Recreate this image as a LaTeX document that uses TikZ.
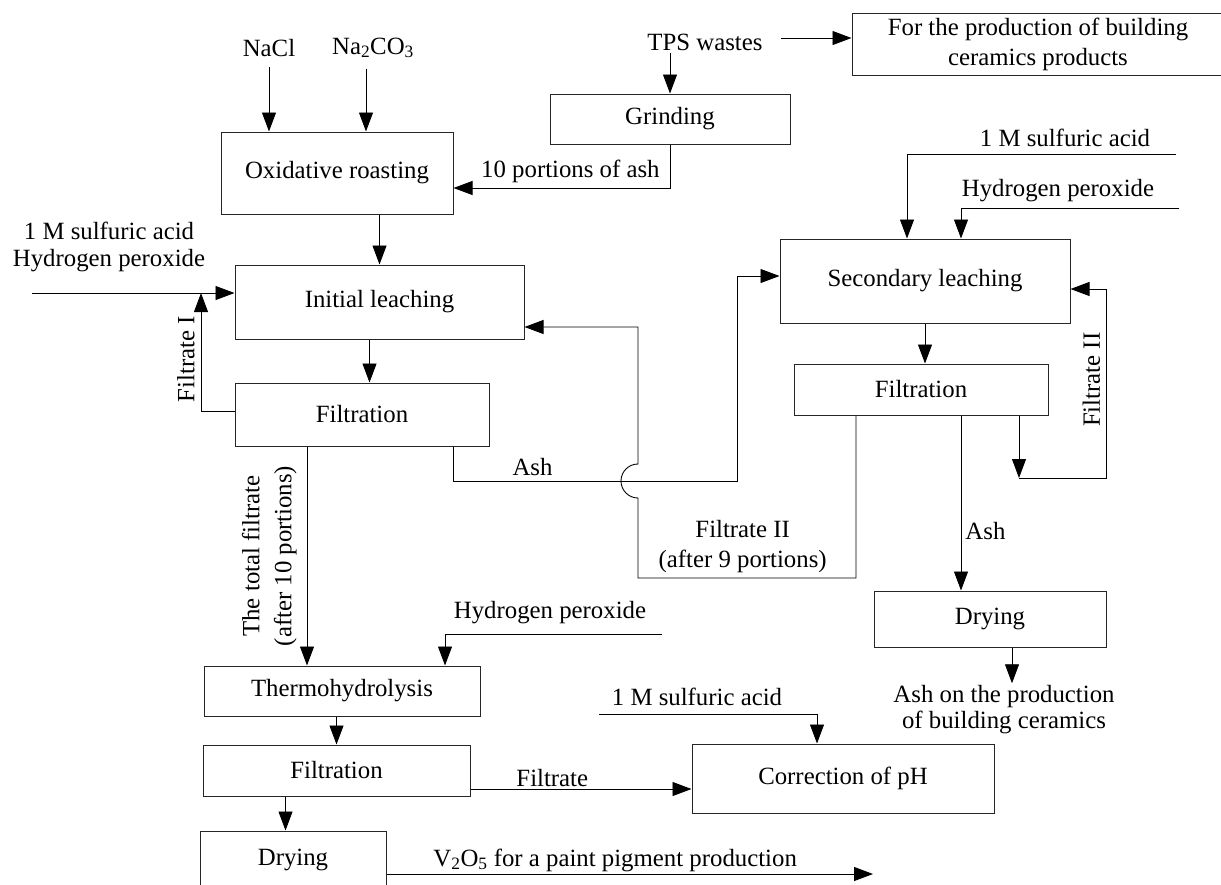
\documentclass[tikz,border=0pt]{standalone}
\usepackage{fontspec}
\setmainfont{Liberation Serif}
\usetikzlibrary{arrows.meta}

\begin{document}
\begin{tikzpicture}[
  x=1pt, y=-1pt,
  font=\fontsize{24.8}{29}\selectfont,
  box/.style={draw=black!85, line width=1pt, align=center, inner sep=0pt},
  lbl/.style={align=center, inner sep=2pt},
  turned/.style={lbl, rotate=90, anchor=south, inner sep=6pt},
  line width=0.9pt, >={Triangle[length=19pt, width=14pt]}
]
\useasboundingbox (0,0) rectangle (1221,884);

% Boxes
\node[box, minimum width=232pt, minimum height=82pt] (roast)  at (337,173)   {Oxidative roasting};
\node[box, minimum width=240pt, minimum height=50pt] (grind)  at (670,119)   {Grinding};
\node[box, minimum width=372pt, minimum height=62pt, font=\fontsize{24.8}{30}\selectfont] (prod) at (1038,44) {For the production of building\\ceramics products};
\node[box, minimum width=289pt, minimum height=74pt] (leach1) at (379.5,302) {Initial leaching};
\node[box, minimum width=254pt, minimum height=63pt] (filt1)  at (362,414.5) {Filtration};
\node[box, minimum width=290pt, minimum height=84pt] (leach2) at (925,281)   {Secondary leaching};
\node[box, minimum width=254pt, minimum height=51pt] (filt2)  at (921,389.5) {Filtration};
\node[box, minimum width=232pt, minimum height=56pt] (dry2)   at (990,619)   {Drying};
\node[box, minimum width=276pt, minimum height=50pt] (thermo) at (342,691)   {Thermohydrolysis};
\node[box, minimum width=267pt, minimum height=51pt] (filt3)  at (336.5,770.5) {Filtration};
\node[box, minimum width=302pt, minimum height=69pt] (corr)   at (843,778.5) {Correction of pH};
\node[box, minimum width=186pt, minimum height=58pt] (dry3)   at (293,860)   {Drying};

% Inputs and outputs
\node[lbl] (nacl) at (269,48) {NaCl};
\node[lbl] (soda) at (373,48) {Na\textsubscript{2}CO\textsubscript{3}};
\node[lbl] (tps)  at (705,42) {TPS wastes};
\node[lbl, font=\fontsize{24.8}{27}\selectfont] (acidL) at (109,247) {1 M sulfuric acid\\Hydrogen peroxide};
\node[lbl] (acidR) at (1065,138) {1 M sulfuric acid};
\node[lbl] (perR)  at (1058,191) {Hydrogen peroxide};
\node[lbl] (perB)  at (550,613)  {Hydrogen peroxide};
\node[lbl] (acidB) at (697,697)  {1 M sulfuric acid};
\node[lbl, font=\fontsize{24.8}{26}\selectfont] (ashprod) at (1004,710) {Ash on the production\\of building ceramics};

\coordinate (inL)  at (32,293);
\coordinate (jI)   at (201,293);
\coordinate (inS)  at (1176,154);
\coordinate (inH)  at (1179,208);
\coordinate (inT)  at (662,634);
\coordinate (inC)  at (599,714);
\coordinate (jII)  at (1019,478);
\coordinate (outV) at (873,874);

% Feed to roasting
\draw[->, shorten <=8pt] (nacl.south) -- (nacl.south |- roast.north);
\draw[->, shorten <=8pt] ([xshift=-7pt]soda.south) -- ([xshift=-7pt]soda.south |- roast.north);
\draw[->, shorten <=16pt] ([yshift=4pt]tps.east) -- ([yshift=4pt]tps.east -| prod.west);
\draw[->] (tps.south -| grind.north) -- (grind.north);
\draw[->] (grind.south) |- node[lbl, pos=0.73, above=3pt]{10 portions of ash} ([yshift=-15pt]roast.east);

% Initial leaching line
\draw[->] (roast.south -| leach1.north) -- (leach1.north);
\draw[->] (inL) -- (inL -| leach1.west);
\draw[->] ([xshift=-10pt]leach1.south) -- ([xshift=-10pt]leach1.south |- filt1.north);
\draw[->] ([yshift=3.5pt]filt1.west) -| node[turned, pos=0.72]{Filtrate I} (jI);
\draw[->] ([xshift=-55pt]filt1.south) -- node[turned, midway, inner sep=10pt, font=\fontsize{24.8}{32}\selectfont]{The total filtrate\\(after 10 portions)} ([xshift=-55pt]filt1.south |- thermo.north);
\draw[->] ([xshift=91pt]filt1.south) |- node[lbl, pos=0.64, above=3pt]{Ash} (737,481) |- ([yshift=5pt]leach2.west);

% Secondary leaching line
\draw[->] (inS) -| ([xshift=-18pt]leach2.north);
\draw[->] (inH) -| ([xshift=36pt]leach2.north);
\draw[->] (leach2.south) -- (leach2.south |- filt2.north);
\draw[->] ([xshift=-65pt]filt2.south) |- node[lbl, pos=0.76, above=3pt, font=\fontsize{24.8}{30}\selectfont]{Filtrate II\\(after 9 portions)} (638,578)
  -- (638,498) arc[start angle=270, end angle=90, radius=17pt] |- ([yshift=-25pt]leach1.east);
\draw[->] ([xshift=98pt]filt2.south) -- (jII);
\draw[->] (jII) -| node[turned, pos=0.76]{Filtrate II} ([xshift=36pt, yshift=-8pt]leach2.east) -- ([yshift=-8pt]leach2.east);
\draw[->] ([xshift=40pt]filt2.south) -- node[lbl, pos=0.66, right=2pt]{Ash} ([xshift=40pt]filt2.south |- dry2.north);
\draw[->] ([xshift=22pt]dry2.south) -- ([xshift=22pt]dry2.south |- ashprod.north);

% Vanadium line
\draw[->] (inT) -| ([xshift=103pt]thermo.north);
\draw[->] (thermo.south -| filt3.north) -- (filt3.north);
\draw[->] (inC) -| ([xshift=-26pt]corr.north);
\draw[->] ([yshift=-18.5pt]filt3.east) -- node[lbl, pos=0.37, above]{Filtrate} ([yshift=-18.5pt]filt3.east -| corr.west);
\draw[->] ([xshift=-51pt]filt3.south) -- ([xshift=-51pt]filt3.south |- dry3.north);
\draw[->] ([yshift=-14pt]dry3.east) -- node[lbl, pos=0.47, above]{V\textsubscript{2}O\textsubscript{5} for a paint pigment production} (outV);

\end{tikzpicture}
\end{document}
